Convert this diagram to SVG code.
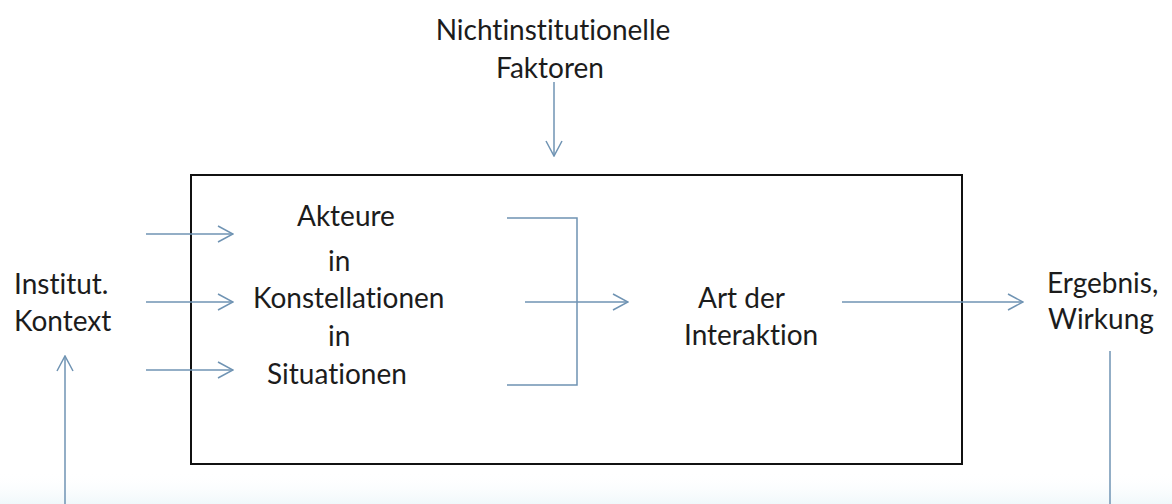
<svg xmlns="http://www.w3.org/2000/svg" width="1172" height="504" viewBox="0 0 1172 504">
  <defs>
    <marker id="arr" viewBox="0 0 17 18" refX="16" refY="9" markerWidth="17" markerHeight="18" markerUnits="userSpaceOnUse" orient="auto">
      <path d="M1,1 L16,9 L1,17" fill="none" stroke="#6f93b3" stroke-width="1.5"/>
    </marker>
    <linearGradient id="tint" x1="0" y1="0" x2="0" y2="1">
      <stop offset="0" stop-color="#ffffff" stop-opacity="0"/>
      <stop offset="1" stop-color="#f0f8fb"/>
    </linearGradient>
  </defs>
  <style>
    text { font-family: Lato, "Open Sans", sans-serif; font-size: 28px; fill: #1c1c1c; font-variant-ligatures: none; }
    .c { stroke: #6f93b3; stroke-width: 1.5; fill: none; }
    .box { fill: #fff; stroke: #111; stroke-width: 2; }
  </style>
  <rect x="0" y="0" width="1172" height="504" fill="#fff"/>
  <rect x="0" y="472" width="1172" height="32" fill="url(#tint)"/>

  <g id="box">
    <rect class="box" x="191" y="175" width="771" height="289"/>
  </g>

  <g id="nichtinstitutionelle">
    <text x="553" y="40" text-anchor="middle">Nichtinstitutionelle</text>
    <text x="550" y="78" text-anchor="middle">Faktoren</text>
  </g>

  <g id="institut">
    <text x="14" y="294">Institut.</text>
    <text x="14" y="331">Kontext</text>
  </g>

  <g id="akteure">
    <text x="297" y="226">Akteure</text>
    <text x="328" y="271">in</text>
    <text x="253" y="308">Konstellationen</text>
    <text x="328" y="346">in</text>
    <text x="267" y="384">Situationen</text>
  </g>

  <g id="interaktion">
    <text x="698" y="308">Art der</text>
    <text x="684" y="345">Interaktion</text>
  </g>

  <g id="ergebnis">
    <text x="1047" y="293">Ergebnis,</text>
    <text x="1048" y="329">Wirkung</text>
  </g>

  <g id="connectors">
    <line class="c" x1="554" y1="82" x2="554" y2="156" marker-end="url(#arr)"/>
    <line class="c" x1="146" y1="234" x2="233" y2="234" marker-end="url(#arr)"/>
    <line class="c" x1="146" y1="302" x2="233" y2="302" marker-end="url(#arr)"/>
    <line class="c" x1="146" y1="370" x2="233" y2="370" marker-end="url(#arr)"/>
    <polyline class="c" points="507,218 577,218 577,385 507,385"/>
    <line class="c" x1="525" y1="302" x2="628" y2="302" marker-end="url(#arr)"/>
    <line class="c" x1="842" y1="302" x2="1023" y2="302" marker-end="url(#arr)"/>
    <line class="c" x1="65" y1="504" x2="65" y2="356" marker-end="url(#arr)"/>
    <line class="c" x1="1110" y1="351" x2="1110" y2="504"/>
  </g>
</svg>
